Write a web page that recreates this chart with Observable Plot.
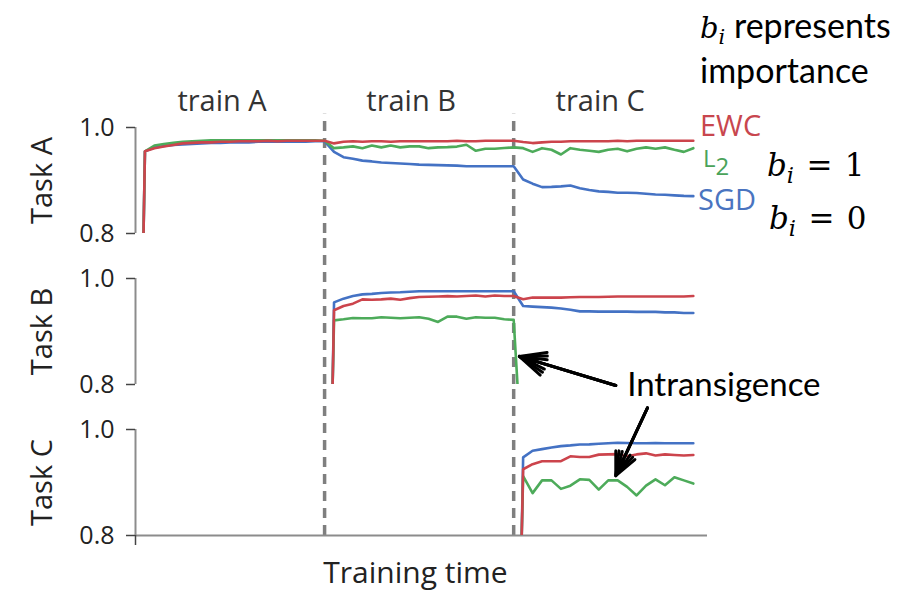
<!DOCTYPE html>
<html>
<head>
<meta charset="utf-8">
<script src="https://cdn.jsdelivr.net/npm/d3@7"></script>
<script src="https://cdn.jsdelivr.net/npm/@observablehq/plot@0.6"></script>
<style>
  body { margin: 0; background: #fff; }
  #wrap { position: relative; width: 897px; height: 601px; overflow: hidden; background: #fff; }
  #wrap svg { position: absolute; left: 0; top: 0; }
  .ann { position: absolute; white-space: nowrap; line-height: 1; }
  .lab { font-family: "Open Sans"; font-size: 29px; line-height: 0.8; }
  .m { font-family: "DejaVu Serif"; font-style: italic; }
  .m sub { font-size: 0.72em; vertical-align: -0.3em; line-height: 0; }
  .math { font-family: "DejaVu Serif"; font-size: 31px; }
  .note { font-family: "Lato"; font-size: 34px; color: #000; line-height: 41px; }
</style>
</head>
<body>
<div id="wrap">
  <div class="ann note" style="left:700px; top:4px;"><span class="m" style="font-size:29px;">b<sub>i</sub></span> represents<br>importance</div>
  <div class="ann lab" style="left:700px; top:113px; color:#c8464e;">EWC</div>
  <div class="ann lab" style="left:703px; top:148px; color:#4aa35a; font-size:24px;">L<span style="display:inline-block; line-height:0.8; position:relative; top:8px;">2</span></div>
  <div class="ann lab" style="left:698px; top:187px; color:#4a74c0;">SGD</div>
  <div class="ann math" style="left:767px; top:150px;"><span class="m">b<sub>i</sub></span>&#8201;&#8201;=&#8201;&#8201;1</div>
  <div class="ann math" style="left:769px; top:203px;"><span class="m">b<sub>i</sub></span>&#8201;&#8201;=&#8201;&#8201;0</div>
</div>
<script>
// ---------------- data ----------------
const tasks = ["Task A", "Task B", "Task C"];
const phaseLabels = ["train A", "train B", "train C"];
const phaseStarts = [0, 20, 40];          // training steps where each phase begins
const phaseBounds = [20, 40];             // dashed dividers
const series = ["SGD", "L2", "EWC"];
const colors = ["#4472c4", "#4dab5a", "#cc444c"];
const startAcc = 0.8;                     // accuracy shown at the start of a task

// Task A accuracy, steps 1..59
const taskA_SGD = [0.955, 0.962, 0.965, 0.967, 0.968, 0.969, 0.970, 0.971, 0.971, 0.972,
  0.972, 0.972, 0.973, 0.973, 0.973, 0.973, 0.973, 0.973, 0.974, 0.974,
  0.954, 0.944, 0.941, 0.9375, 0.936, 0.934, 0.933, 0.932, 0.931, 0.930,
  0.9295, 0.929, 0.9285, 0.928, 0.927, 0.927, 0.927, 0.927, 0.927, 0.927,
  0.902, 0.894, 0.8875, 0.888, 0.889, 0.8905, 0.8855, 0.882, 0.8795, 0.8785,
  0.877, 0.877, 0.8765, 0.875, 0.8737, 0.873, 0.872, 0.871, 0.8705];
const taskA_L2 = [0.955, 0.966, 0.969, 0.971, 0.973, 0.974, 0.975, 0.976, 0.976, 0.976,
  0.976, 0.976, 0.976, 0.976, 0.976, 0.976, 0.976, 0.976, 0.976, 0.975,
  0.961, 0.9625, 0.9644, 0.961, 0.966, 0.9625, 0.966, 0.9625, 0.9644, 0.9644,
  0.961, 0.9625, 0.963, 0.964, 0.9675, 0.956, 0.960, 0.960, 0.9612, 0.9625,
  0.961, 0.954, 0.961, 0.958, 0.949, 0.961, 0.958, 0.956, 0.954, 0.958,
  0.960, 0.955, 0.960, 0.9625, 0.960, 0.9625, 0.958, 0.954, 0.961];
const taskA_EWC = [0.955, 0.961, 0.964, 0.967, 0.970, 0.971, 0.972, 0.972, 0.973, 0.973,
  0.974, 0.974, 0.974, 0.975, 0.974, 0.975, 0.975, 0.975, 0.975, 0.975,
  0.970, 0.973, 0.974, 0.973, 0.974, 0.974, 0.973, 0.974, 0.974, 0.974,
  0.974, 0.974, 0.974, 0.975, 0.974, 0.974, 0.975, 0.975, 0.975, 0.975,
  0.9725, 0.9706, 0.972, 0.973, 0.973, 0.974, 0.974, 0.974, 0.974, 0.974,
  0.975, 0.974, 0.975, 0.975, 0.975, 0.975, 0.975, 0.975, 0.975];

// Task B accuracy, steps 21..59 (L2: 21..41, last one falls below the axis)
const taskB_SGD = [0.955, 0.962, 0.967, 0.970, 0.971, 0.9725, 0.9735, 0.974, 0.975, 0.976,
  0.976, 0.976, 0.976, 0.976, 0.976, 0.976, 0.976, 0.976, 0.976, 0.976,
  0.948, 0.947, 0.946, 0.945, 0.9435, 0.941, 0.938, 0.938, 0.9375, 0.9375,
  0.9375, 0.9375, 0.937, 0.937, 0.937, 0.936, 0.936, 0.935, 0.935];
const taskB_L2 = [0.921, 0.923, 0.9255, 0.925, 0.925, 0.927, 0.926, 0.925, 0.926, 0.927,
  0.924, 0.918, 0.928, 0.928, 0.924, 0.927, 0.926, 0.926, 0.923, 0.922,
  0.62];
const taskB_EWC = [0.940, 0.948, 0.9525, 0.9606, 0.960, 0.9606, 0.962, 0.960, 0.963, 0.965,
  0.9655, 0.966, 0.9667, 0.966, 0.967, 0.968, 0.966, 0.968, 0.967, 0.967,
  0.961, 0.964, 0.964, 0.964, 0.964, 0.9645, 0.965, 0.965, 0.965, 0.9655,
  0.966, 0.966, 0.966, 0.966, 0.966, 0.966, 0.966, 0.966, 0.967];

// Task C accuracy, steps 41..59
const taskC_SGD = [0.9475, 0.960, 0.963, 0.966, 0.9686, 0.970, 0.9718, 0.972, 0.973, 0.974,
  0.975, 0.9745, 0.974, 0.974, 0.9745, 0.974, 0.974, 0.974, 0.974];
const taskC_L2 = [0.912, 0.880, 0.904, 0.904, 0.888, 0.894, 0.906, 0.905, 0.8865, 0.904,
  0.904, 0.8917, 0.8756, 0.894, 0.906, 0.8948, 0.910, 0.904, 0.898];
const taskC_EWC = [0.925, 0.9346, 0.940, 0.940, 0.9404, 0.9494, 0.948, 0.948, 0.9526, 0.953,
  0.9535, 0.9494, 0.953, 0.955, 0.951, 0.953, 0.952, 0.951, 0.952];

// annotation arrows (data coordinates) for "Intransigence"
const arrowsData = [
  {task: "Task B", x1: 50.8, y1: 0.798, x2: 40.6, y2: 0.853},
  {task: "Task C", x1: 54.15, y1: 1.041, x2: 50.8, y2: 0.913}
];

// ---------------- build table ----------------
const rows = [];
function addLine(task, s, firstStep, vals) {
  rows.push({task, series: s, step: firstStep - 0.15, value: startAcc});
  vals.forEach((v, i) => rows.push({task, series: s, step: firstStep + i, value: v}));
}
addLine("Task A", "SGD", 1, taskA_SGD);
addLine("Task A", "L2", 1, taskA_L2);
addLine("Task A", "EWC", 1, taskA_EWC);
addLine("Task B", "SGD", 21, taskB_SGD);
addLine("Task B", "L2", 21, taskB_L2);
addLine("Task B", "EWC", 21, taskB_EWC);
addLine("Task C", "SGD", 41, taskC_SGD);
addLine("Task C", "L2", 41, taskC_L2);
addLine("Task C", "EWC", 41, taskC_EWC);

const dividerRows = tasks.flatMap(t => phaseBounds.map(b => ({task: t, step: b, top: t === tasks[0] ? 1.025 : 1.086})));

// filled-looking arrow heads: several head angles overlaid
const headMarks = [50, 35, 20].map(a =>
  Plot.arrow(arrowsData, {x1: "x1", y1: "y1", x2: "x2", y2: "y2", fy: "task", stroke: "#000", strokeWidth: 3, headLength: 14, headAngle: a})
);

const chart = Plot.plot({
  width: 897,
  height: 601,
  marginTop: 126,
  marginBottom: 65,
  marginLeft: 135,
  marginRight: 190,
  x: {domain: [0, 60.5]},
  y: {domain: [0.8, 1.0]},
  fy: {domain: tasks, paddingInner: 0.3, paddingOuter: 0, axis: null, label: null},
  color: {domain: series, range: colors},
  facet: {marginTop: 0, marginRight: 0, marginBottom: 0, marginLeft: 0},
  style: {fontFamily: "Open Sans", fontSize: "25px", color: "#222", background: "transparent", overflow: "visible"},
  marks: [
    Plot.ruleX(dividerRows, {x: "step", y1: 0.8, y2: "top", fy: "task", stroke: "#7f7f7f", strokeWidth: 3.5, strokeDasharray: "10,7"}),
    Plot.ruleX([0], {stroke: "#8c8c8c", strokeWidth: 2}),
    Plot.ruleY([tasks[2]], {fy: d => d, y: 0.8, stroke: "#8c8c8c", strokeWidth: 2}),
    Plot.axisY({ticks: [0.8, 1.0], tickFormat: d3.format(".1f"), tickSize: 9, tickPadding: 12, fontSize: 25, label: null, stroke: "#444", strokeWidth: 1.5}),
    Plot.axisX({ticks: [0], tickFormat: () => "", tickSize: 10, label: null, stroke: "#444", strokeWidth: 1.5, facetAnchor: "bottom"}),
    Plot.line(rows, {x: "step", y: "value", fy: "task", stroke: "series", strokeWidth: 2.6, clip: true}),
    Plot.text(tasks, {fy: d => d, text: d => d, frameAnchor: "left", textAnchor: "middle", rotate: -90, dx: -93, fontSize: 29, fill: "#222"}),
    Plot.text(phaseLabels, {fy: () => tasks[0], x: (d, i) => phaseStarts[i] + 10, y: 1.0, dy: -26, dx: -8, fontSize: 29, fill: "#333"}),
    Plot.text(["Training time"], {fy: () => tasks[2], frameAnchor: "bottom", textAnchor: "middle", dy: 47, dx: -6, fontSize: 30, fill: "#222"}),
    ...headMarks,
    Plot.text(["Intransigence"], {fy: () => tasks[1], x: 52.0, y: 0.799, textAnchor: "start", fontSize: 33, fontFamily: "Lato", fill: "#000"})
  ]
});
document.getElementById("wrap").prepend(chart);
</script>
</body>
</html>
